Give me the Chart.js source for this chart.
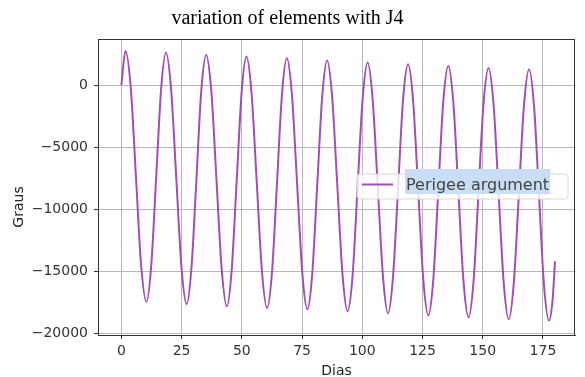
<!DOCTYPE html>
<html>
<head>
<meta charset="utf-8">
<script src="https://cdn.jsdelivr.net/npm/chart.js@4.4.1/dist/chart.umd.min.js"></script>
<style>
  html, body { margin: 0; padding: 0; background: #ffffff; }
  #wrap { width: 585px; height: 377px; position: relative; }
</style>
</head>
<body>
<div id="wrap"><canvas id="c" width="585" height="377"></canvas></div>
<script>
const chartTitle = "variation of elements with J4";
const xAxisLabel = "Dias";
const yAxisLabel = "Graus";
const seriesLabel = "Perigee argument";

const xTickValues = [0, 25, 50, 75, 100, 125, 150, 175];
const yTickValues = [0, -5000, -10000, -15000, -20000];

const days = [0, 1.7, 3.9, 6.05, 8.2, 10.4, 12.4, 14.45, 16.5, 18.5, 20.65, 22.8, 24.95, 27.1, 29.1, 31.15, 33.15, 35.2, 37.35, 39.5, 41.65, 43.8, 45.8, 47.85, 49.9, 51.9, 54.05, 56.2, 58.35, 60.5, 62.55, 64.6, 66.65, 68.7, 70.8, 72.95, 75.1, 77.2, 79.25, 81.3, 83.35, 85.4, 87.5, 89.65, 91.8, 93.9, 96.0, 98.05, 100.15, 102.2, 104.3, 106.45, 108.6, 110.7, 112.75, 114.85, 116.9, 119.0, 121.1, 123.2, 125.3, 127.4, 129.5, 131.55, 133.6, 135.7, 137.8, 139.9, 142.0, 144.1, 146.2, 148.25, 150.3, 152.4, 154.5, 156.6, 158.7, 160.8, 162.9, 165.0, 167.1, 169.2, 171.3, 173.35, 175.4, 177.5, 179.0, 180.0];

const perigeeArgument = [0, 2740, -210, -7370, -14520, -17470, -14540, -7440, -330, 2600, -360, -7530, -14690, -17650, -14720, -7610, -500, 2430, -530, -7700, -14860, -17820, -14880, -7770, -650, 2290, -670, -7840, -15000, -17960, -15020, -7910, -790, 2150, -800, -7970, -15130, -18080, -15150, -8060, -960, 1970, -980, -8130, -15280, -18230, -15300, -8210, -1120, 1810, -1140, -8300, -15450, -18400, -15470, -8360, -1250, 1680, -1270, -8440, -15600, -18550, -15620, -8510, -1400, 1530, -1430, -8600, -15760, -18720, -15790, -8670, -1560, 1380, -1580, -8750, -15910, -18870, -15930, -8810, -1680, 1260, -1700, -8860, -16030, -18980, -17300, -14200];

const lineColor = '#a050b0';
const fmt = v => (v < 0 ? '\u2212' + Math.abs(v) : String(v));

const framePlugin = {
  id: 'frame',
  afterDraw(chart) {
    const ctx = chart.ctx;
    const a = chart.chartArea;
    ctx.save();
    // frame
    ctx.strokeStyle = '#333333';
    ctx.lineWidth = 1;
    ctx.strokeRect(Math.round(a.left) + 0.5, Math.round(a.top) + 0.5, Math.round(a.right - a.left) - 1, Math.round(a.bottom - a.top));
    // y axis label
    ctx.save();
    ctx.translate(19, 207);
    ctx.rotate(-Math.PI / 2);
    ctx.fillStyle = '#222222';
    ctx.font = '14px "DejaVu Sans"';
    ctx.textAlign = 'center';
    ctx.textBaseline = 'middle';
    ctx.fillText(yAxisLabel, 0, 0);
    ctx.restore();
    // legend
    const lx = 357, ly = 174, lw = 211, lh = 25, r = 3;
    ctx.beginPath();
    ctx.moveTo(lx + r, ly);
    ctx.lineTo(lx + lw - r, ly);
    ctx.quadraticCurveTo(lx + lw, ly, lx + lw, ly + r);
    ctx.lineTo(lx + lw, ly + lh - r);
    ctx.quadraticCurveTo(lx + lw, ly + lh, lx + lw - r, ly + lh);
    ctx.lineTo(lx + r, ly + lh);
    ctx.quadraticCurveTo(lx, ly + lh, lx, ly + lh - r);
    ctx.lineTo(lx, ly + r);
    ctx.quadraticCurveTo(lx, ly, lx + r, ly);
    ctx.closePath();
    ctx.fillStyle = 'rgba(255,255,255,0.8)';
    ctx.fill();
    ctx.strokeStyle = '#d8d8d8';
    ctx.lineWidth = 1;
    ctx.stroke();
    ctx.strokeStyle = chart.data.datasets[0].borderColor;
    ctx.lineWidth = 2;
    ctx.beginPath();
    ctx.moveTo(362, 184.5);
    ctx.lineTo(393, 184.5);
    ctx.stroke();
    ctx.font = '16px "DejaVu Sans"';
    const label = chart.data.datasets[0].label;
    const tw = ctx.measureText(label).width;
    ctx.fillStyle = '#c9def4';
    ctx.fillRect(405, 169, tw + 2, 25);
    ctx.fillStyle = '#444444';
    ctx.textAlign = 'left';
    ctx.textBaseline = 'alphabetic';
    ctx.fillText(label, 406, 189.5);
    ctx.restore();
  }
};

new Chart(document.getElementById('c'), {
  type: 'line',
  data: {
    datasets: [{
      label: seriesLabel,
      data: days.map((d, i) => ({ x: d, y: perigeeArgument[i] })),
      borderColor: lineColor,
      borderWidth: 2,
      pointRadius: 0,
      cubicInterpolationMode: 'monotone',
      fill: false
    }]
  },
  options: {
    responsive: false,
    animation: false,
    devicePixelRatio: 1,
    layout: { padding: { left: 0, right: 10, top: 0, bottom: 0 } },
    plugins: {
      legend: { display: false },
      tooltip: { enabled: false },
      title: {
        display: true,
        text: chartTitle,
        color: '#000000',
        font: { family: '"Liberation Serif", "Times New Roman", serif', size: 20, weight: 'normal', lineHeight: 1.2 },
        padding: { top: 7, bottom: 8 }
      }
    },
    scales: {
      x: {
        type: 'linear',
        min: -9.7,
        max: 188.3,
        afterFit: s => { s.height = 42; },
        afterBuildTicks: s => { s.ticks = xTickValues.map(v => ({ value: v })); },
        ticks: { includeBounds: false, stepSize: 25, color: '#333333', padding: 4, maxRotation: 0,
                 font: { family: '"DejaVu Sans"', size: 14 }, callback: v => fmt(v) },
        grid: { color: '#b8b8b8', lineWidth: 1, drawTicks: true, tickLength: 4, tickColor: '#333333' },
        border: { display: true, color: '#333333' },
        title: { display: true, text: xAxisLabel, color: '#222222',
                 font: { family: '"DejaVu Sans"', size: 14, lineHeight: '12px' }, padding: { top: 0, bottom: 0 } }
      },
      y: {
        type: 'linear',
        min: -20140,
        max: 3710,
        afterFit: s => { s.width = 98; },
        afterBuildTicks: s => { s.ticks = yTickValues.map(v => ({ value: v })); },
        ticks: { includeBounds: false, stepSize: 5000, color: '#333333', padding: 6,
                 font: { family: '"DejaVu Sans"', size: 14 }, callback: v => fmt(v) },
        grid: { color: '#b8b8b8', lineWidth: 1, drawTicks: true, tickLength: 4, tickColor: '#333333' },
        border: { display: true, color: '#333333' },
        title: { display: false }
      }
    }
  },
  plugins: [framePlugin]
});
</script>
</body>
</html>
